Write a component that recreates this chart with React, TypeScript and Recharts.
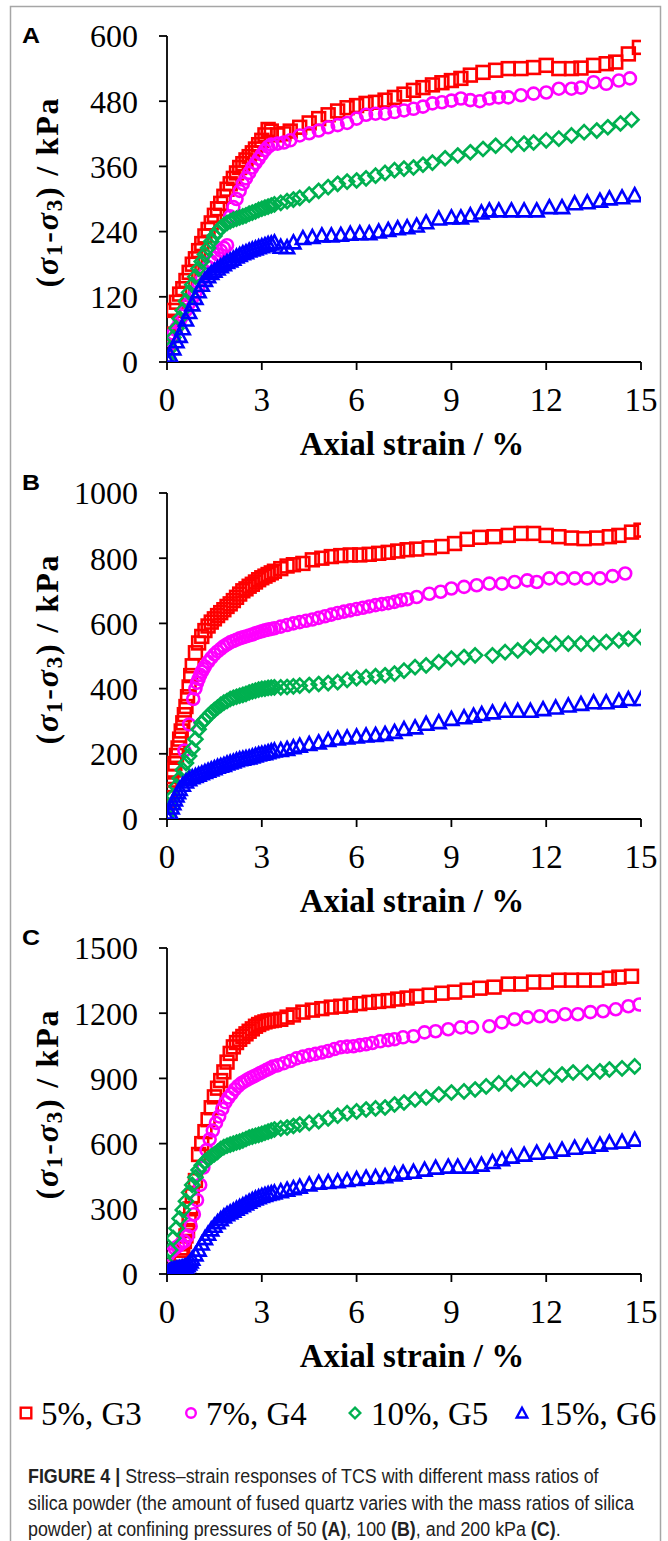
import React from "react";
import { ScatterChart, Scatter, XAxis, YAxis, Label } from "recharts";

// strain (%) , deviator stress (kPa)
const A_G3: [number, number][] = [[0,30],[0.05,50],[0.1,75],[0.2,95],[0.3,110],[0.4,125],[0.5,135],[0.6,150],[0.7,165],[0.8,180],[0.9,190],[1.0,205],[1.1,218],[1.2,232],[1.3,244],[1.4,256],[1.5,270],[1.6,282],[1.7,292],[1.8,305],[1.9,318],[2.0,328],[2.1,338],[2.2,348],[2.3,358],[2.4,365],[2.5,372],[2.6,378],[2.7,385],[2.8,392],[2.9,400],[3.0,408],[3.1,418],[3.2,428],[3.3,425],[3.5,418],[3.7,420],[3.9,425],[4.2,432],[4.5,440],[4.8,448],[5.1,455],[5.4,462],[5.7,468],[6.0,472],[6.3,476],[6.6,478],[6.9,482],[7.2,487],[7.5,493],[7.8,500],[8.1,505],[8.4,510],[8.7,514],[9.0,518],[9.3,522],[9.6,528],[10.0,533],[10.4,537],[10.8,540],[11.2,540],[11.6,542],[12.0,546],[12.4,540],[12.8,540],[13.1,541],[13.5,546],[13.9,549],[14.2,552],[14.6,567],[14.95,579]];
const A_G4: [number, number][] = [[0,25],[0.1,40],[0.2,52],[0.3,62],[0.4,75],[0.5,85],[0.6,95],[0.7,108],[0.8,118],[0.9,128],[1.0,140],[1.1,152],[1.2,163],[1.3,175],[1.4,185],[1.5,192],[1.6,198],[1.7,205],[1.8,210],[1.9,215],[2.0,268],[2.1,285],[2.2,300],[2.3,315],[2.4,328],[2.5,338],[2.6,348],[2.7,358],[2.8,366],[2.9,374],[3.0,382],[3.1,390],[3.2,396],[3.3,400],[3.5,402],[3.7,404],[3.9,408],[4.2,417],[4.5,421],[4.8,426],[5.1,432],[5.4,436],[5.7,440],[6.0,448],[6.3,455],[6.6,457],[6.9,457],[7.2,460],[7.5,463],[7.8,466],[8.1,470],[8.4,476],[8.7,478],[9.0,481],[9.3,485],[9.6,482],[9.9,480],[10.2,485],[10.5,487],[10.8,487],[11.2,491],[11.6,494],[12.0,496],[12.4,503],[12.8,503],[13.1,505],[13.5,515],[13.9,512],[14.3,518],[14.65,522]];
const A_G5: [number, number][] = [[0,5],[0.1,25],[0.2,45],[0.3,62],[0.4,80],[0.5,95],[0.6,112],[0.7,128],[0.8,142],[0.9,157],[1.0,172],[1.1,185],[1.2,198],[1.3,210],[1.4,222],[1.5,232],[1.6,240],[1.7,247],[1.8,252],[1.9,256],[2.0,259],[2.1,262],[2.2,264],[2.3,266],[2.4,268],[2.5,270],[2.6,273],[2.7,275],[2.8,277],[2.9,280],[3.0,282],[3.1,284],[3.2,286],[3.3,288],[3.4,290],[3.6,293],[3.8,296],[4.0,299],[4.2,302],[4.5,308],[4.8,315],[5.1,322],[5.4,328],[5.7,332],[6.0,334],[6.3,338],[6.6,343],[6.9,348],[7.2,353],[7.5,356],[7.8,358],[8.1,363],[8.4,367],[8.8,375],[9.2,380],[9.6,386],[10.0,392],[10.4,398],[10.9,400],[11.3,402],[11.6,404],[12.0,408],[12.4,411],[12.8,417],[13.2,423],[13.6,426],[13.95,432],[14.35,439],[14.7,446]];
const A_G6: [number, number][] = [[0.05,0],[0.1,12],[0.2,25],[0.3,38],[0.4,48],[0.5,62],[0.6,78],[0.7,92],[0.8,106],[0.9,118],[1.0,130],[1.1,142],[1.2,151],[1.3,158],[1.4,164],[1.5,168],[1.6,172],[1.7,176],[1.8,180],[1.9,184],[2.0,187],[2.1,190],[2.2,194],[2.3,197],[2.4,200],[2.5,202],[2.6,205],[2.7,207],[2.8,209],[2.9,211],[3.0,213],[3.1,215],[3.2,217],[3.3,218],[3.4,220],[3.6,212],[3.8,211],[4.0,220],[4.3,228],[4.6,230],[4.9,233],[5.2,233],[5.5,234],[5.8,236],[6.1,237],[6.4,237],[6.7,240],[7.0,243],[7.3,246],[7.6,248],[7.9,251],[8.2,257],[8.6,264],[9.0,266],[9.3,266],[9.6,270],[9.95,275],[10.2,279],[10.5,279],[10.9,279],[11.3,279],[11.7,279],[12.1,285],[12.5,285],[12.9,292],[13.3,294],[13.7,297],[14.0,301],[14.4,303],[14.8,307]];

const B_G3: [number, number][] = [[0,40],[0.05,80],[0.1,105],[0.15,130],[0.2,150],[0.25,170],[0.3,195],[0.35,218],[0.4,245],[0.45,270],[0.5,295],[0.55,320],[0.6,345],[0.65,375],[0.7,405],[0.75,440],[0.8,470],[0.9,510],[1.0,540],[1.1,560],[1.2,578],[1.3,592],[1.4,604],[1.5,614],[1.6,624],[1.7,633],[1.8,642],[1.9,652],[2.0,660],[2.1,670],[2.2,680],[2.3,690],[2.4,700],[2.5,706],[2.6,714],[2.7,720],[2.8,727],[2.9,734],[3.0,740],[3.1,745],[3.2,750],[3.3,755],[3.4,760],[3.6,768],[3.8,776],[4.0,780],[4.3,784],[4.6,795],[4.9,800],[5.2,805],[5.5,808],[5.8,810],[6.1,810],[6.4,812],[6.7,815],[7.0,818],[7.3,822],[7.6,826],[7.9,828],[8.3,832],[8.7,836],[9.1,845],[9.5,858],[9.9,864],[10.35,866],[10.8,870],[11.2,876],[11.6,876],[12.0,870],[12.4,866],[12.8,862],[13.2,860],[13.6,862],[14.0,866],[14.3,870],[14.7,880],[15.0,886]];
const B_G4: [number, number][] = [[0.55,210],[0.7,290],[0.83,368],[0.9,400],[0.95,418],[1.0,430],[1.05,442],[1.1,452],[1.15,460],[1.2,468],[1.3,482],[1.4,494],[1.5,505],[1.6,514],[1.7,522],[1.8,530],[1.9,536],[2.0,542],[2.1,546],[2.2,550],[2.3,554],[2.4,557],[2.5,560],[2.6,563],[2.7,566],[2.8,570],[2.9,573],[3.0,576],[3.1,579],[3.2,581],[3.3,583],[3.4,585],[3.6,590],[3.8,595],[4.0,600],[4.2,604],[4.4,608],[4.6,612],[4.8,617],[5.0,622],[5.2,627],[5.4,632],[5.6,636],[5.8,640],[6.0,644],[6.2,648],[6.4,652],[6.6,656],[6.8,659],[7.0,662],[7.2,666],[7.4,671],[7.6,674],[7.9,681],[8.3,691],[8.66,697],[9.0,707],[9.4,712],[9.8,717],[10.2,722],[10.6,722],[11.0,727],[11.4,732],[11.7,727],[12.1,738],[12.5,738],[12.9,738],[13.3,738],[13.7,738],[14.1,745],[14.5,753]];
const B_G5: [number, number][] = [[0,10],[0.1,40],[0.2,70],[0.3,100],[0.4,125],[0.5,150],[0.6,172],[0.7,193],[0.8,215],[0.9,245],[1.0,275],[1.1,295],[1.2,305],[1.3,316],[1.4,326],[1.5,334],[1.6,342],[1.7,350],[1.8,357],[1.9,362],[2.0,368],[2.1,372],[2.2,375],[2.3,378],[2.4,381],[2.5,384],[2.6,388],[2.7,391],[2.8,394],[2.9,397],[3.0,399],[3.1,400],[3.2,402],[3.3,403],[3.4,404],[3.6,404],[3.8,405],[4.0,407],[4.2,409],[4.5,411],[4.8,414],[5.1,417],[5.4,420],[5.7,427],[6.0,432],[6.3,435],[6.6,438],[6.9,441],[7.2,446],[7.5,455],[7.85,466],[8.2,471],[8.6,481],[9.0,492],[9.4,497],[9.75,502],[10.3,502],[10.7,512],[11.1,517],[11.5,527],[11.9,533],[12.3,538],[12.7,538],[13.1,538],[13.5,538],[13.9,543],[14.3,548],[14.6,553],[15.0,558]];
const B_G6: [number, number][] = [[0.05,0],[0.1,20],[0.15,35],[0.2,48],[0.25,60],[0.3,72],[0.35,82],[0.4,92],[0.5,105],[0.6,115],[0.7,122],[0.8,128],[0.9,132],[1.0,136],[1.1,140],[1.2,144],[1.3,148],[1.4,152],[1.5,156],[1.6,160],[1.7,163],[1.8,166],[1.9,170],[2.0,173],[2.1,176],[2.2,180],[2.3,183],[2.4,185],[2.5,187],[2.6,189],[2.7,192],[2.8,195],[2.9,198],[3.0,200],[3.1,202],[3.2,205],[3.3,208],[3.4,210],[3.6,212],[3.8,215],[4.0,220],[4.2,225],[4.5,230],[4.8,235],[5.1,242],[5.4,247],[5.7,250],[6.0,253],[6.3,256],[6.6,258],[6.9,261],[7.2,267],[7.5,276],[7.85,281],[8.2,292],[8.6,297],[9.0,307],[9.4,312],[9.7,317],[9.96,322],[10.3,327],[10.7,332],[11.1,332],[11.5,332],[11.9,337],[12.3,342],[12.7,348],[13.1,353],[13.5,358],[13.9,358],[14.3,363],[14.6,368],[15.0,368]];

const C_G3: [number, number][] = [[0,0],[0.05,5],[0.1,5],[0.15,8],[0.2,12],[0.25,15],[0.3,20],[0.35,30],[0.4,50],[0.45,80],[0.5,120],[0.55,150],[0.6,175],[0.65,200],[0.7,250],[0.75,300],[0.8,360],[0.9,430],[1.0,550],[1.1,600],[1.2,655],[1.3,710],[1.4,765],[1.5,815],[1.6,855],[1.7,890],[1.8,930],[1.9,975],[2.0,1015],[2.1,1045],[2.2,1065],[2.3,1080],[2.4,1093],[2.5,1105],[2.6,1117],[2.7,1128],[2.8,1140],[2.9,1148],[3.0,1155],[3.1,1160],[3.2,1164],[3.3,1166],[3.4,1168],[3.6,1172],[3.8,1182],[4.0,1192],[4.3,1205],[4.6,1214],[4.9,1221],[5.2,1228],[5.5,1232],[5.8,1237],[6.1,1244],[6.4,1250],[6.7,1254],[7.0,1258],[7.3,1265],[7.6,1270],[7.9,1278],[8.3,1283],[8.7,1292],[9.1,1297],[9.5,1306],[9.9,1315],[10.35,1320],[10.8,1334],[11.2,1334],[11.6,1343],[12.0,1343],[12.4,1352],[12.8,1352],[13.2,1352],[13.6,1352],[14.0,1361],[14.3,1366],[14.7,1370]];
const C_G4: [number, number][] = [[0.05,90],[0.15,105],[0.25,118],[0.35,128],[0.45,140],[0.55,150],[0.65,175],[0.75,220],[0.85,275],[0.95,340],[1.05,410],[1.15,490],[1.25,570],[1.35,620],[1.45,660],[1.55,695],[1.65,725],[1.75,760],[1.85,790],[1.95,812],[2.05,830],[2.15,850],[2.25,865],[2.35,877],[2.45,886],[2.55,895],[2.65,903],[2.75,910],[2.85,917],[2.95,925],[3.05,932],[3.15,939],[3.25,946],[3.35,954],[3.5,960],[3.7,970],[3.9,980],[4.1,992],[4.3,1000],[4.5,1007],[4.7,1013],[4.9,1019],[5.1,1026],[5.3,1035],[5.5,1043],[5.7,1046],[5.9,1048],[6.1,1053],[6.3,1057],[6.5,1063],[6.75,1071],[7.0,1076],[7.2,1080],[7.47,1089],[7.8,1094],[8.15,1112],[8.5,1117],[8.9,1126],[9.3,1135],[9.65,1135],[10.2,1140],[10.6,1158],[11.0,1172],[11.4,1181],[11.8,1186],[12.2,1186],[12.6,1195],[13.0,1195],[13.4,1205],[13.8,1209],[14.2,1218],[14.6,1232],[14.95,1240]];
const C_G5: [number, number][] = [[0,50],[0.1,110],[0.2,165],[0.3,210],[0.4,255],[0.5,295],[0.6,335],[0.7,375],[0.8,410],[0.9,445],[1.0,478],[1.1,500],[1.2,518],[1.3,530],[1.4,541],[1.5,551],[1.6,562],[1.7,575],[1.8,584],[1.9,590],[2.0,595],[2.1,600],[2.2,605],[2.3,609],[2.4,615],[2.5,621],[2.6,628],[2.7,632],[2.8,636],[2.9,640],[3.0,645],[3.1,650],[3.2,655],[3.3,660],[3.4,665],[3.6,670],[3.8,674],[4.0,681],[4.2,688],[4.5,695],[4.8,703],[5.1,716],[5.4,728],[5.7,740],[6.0,748],[6.3,757],[6.6,762],[6.9,766],[7.2,780],[7.5,789],[7.85,803],[8.2,812],[8.6,826],[9.0,835],[9.4,840],[9.75,849],[10.1,863],[10.5,877],[10.9,877],[11.3,895],[11.7,900],[12.1,909],[12.5,918],[12.85,927],[13.3,927],[13.7,932],[14.0,941],[14.4,946],[14.8,955]];
const C_G6: [number, number][] = [[0,5],[0.05,10],[0.1,15],[0.15,18],[0.2,20],[0.25,22],[0.3,24],[0.35,25],[0.4,27],[0.45,28],[0.5,30],[0.55,32],[0.6,35],[0.65,40],[0.7,48],[0.75,58],[0.8,70],[0.9,90],[1.0,112],[1.1,140],[1.2,165],[1.3,185],[1.4,205],[1.5,222],[1.6,238],[1.7,252],[1.8,265],[1.9,275],[2.0,283],[2.1,291],[2.2,300],[2.3,308],[2.4,316],[2.5,324],[2.6,332],[2.7,340],[2.8,347],[2.9,353],[3.0,359],[3.1,364],[3.2,368],[3.3,372],[3.4,375],[3.6,381],[3.8,388],[4.0,395],[4.2,402],[4.5,412],[4.8,420],[5.1,423],[5.4,427],[5.7,432],[6.0,437],[6.3,443],[6.6,446],[6.9,450],[7.2,458],[7.47,466],[7.8,470],[8.15,480],[8.5,489],[8.9,494],[9.2,494],[9.6,494],[9.95,503],[10.3,515],[10.6,528],[10.9,540],[11.3,549],[11.7,558],[12.1,563],[12.5,572],[12.9,581],[13.3,586],[13.7,595],[14.0,605],[14.4,609],[14.8,618]];

const X_TICKS = [0, 3, 6, 9, 12, 15];
const A_Y_TICKS = [0, 120, 240, 360, 480, 600];
const B_Y_TICKS = [0, 200, 400, 600, 800, 1000];
const C_Y_TICKS = [0, 300, 600, 900, 1200, 1500];
const SERIES_NAMES = ["5%, G3", "7%, G4", "10%, G5", "15%, G6"];

const SERIF = '"Liberation Serif", "Times New Roman", serif';
const SANS = '"Liberation Sans", Arial, sans-serif';
const COLORS = ["#ff0000", "#ff00ff", "#00b050", "#0000ff"];
const SW = 2.6;

type Pt = { x: number; y: number };
const toPts = (arr: [number, number][]): Pt[] => arr.map(([x, y]) => ({ x, y }));

const Square = ({ cx, cy, color, s = 6.4, sw = SW }: any) =>
  cx == null ? <g /> : <rect x={cx - s} y={cy - s} width={2 * s} height={2 * s} fill="none" stroke={color} strokeWidth={sw} />;
const Circle = ({ cx, cy, color, s = 6, sw = SW }: any) =>
  cx == null ? <g /> : <circle cx={cx} cy={cy} r={s} fill="none" stroke={color} strokeWidth={sw} />;
const Diamond = ({ cx, cy, color, s = 7, sw = SW }: any) =>
  cx == null ? <g /> : (
    <polygon points={`${cx},${cy - s} ${cx + s},${cy} ${cx},${cy + s} ${cx - s},${cy}`} fill="none" stroke={color} strokeWidth={sw} />
  );
const Triangle = ({ cx, cy, color, s = 7, sw = SW }: any) =>
  cx == null ? <g /> : (
    <polygon points={`${cx},${cy - s} ${cx + s},${cy + s * 0.85} ${cx - s},${cy + s * 0.85}`} fill="none" stroke={color} strokeWidth={sw} />
  );
const MARKERS = [Square, Circle, Diamond, Triangle];

const XTitle = (props: any) => {
  const vb = props.viewBox || { x: 0, y: 0, width: 0 };
  return (
    <text x={vb.x + vb.width / 2 + 8} y={vb.y + 93} textAnchor="middle" fontFamily={SERIF} fontWeight="bold" fontSize={33} fill="#000">
      Axial strain / %
    </text>
  );
};

const YTitle = (props: any) => {
  const vb = props.viewBox || { x: 0, y: 0, height: 0 };
  const cx = 47;
  const cy = vb.y + vb.height / 2 - 6;
  return (
    <text
      x={cx}
      y={cy}
      transform={`rotate(-90 ${cx} ${cy})`}
      textAnchor="middle"
      dominantBaseline="central"
      fontFamily={SERIF}
      fontWeight="bold"
      fontSize={32}
      fill="#000"
      textLength={189}
      lengthAdjust="spacing"
    >
      (<tspan fontStyle="italic">σ</tspan>
      <tspan dy={7} fontSize={23}>1</tspan>
      <tspan dy={-7}>-</tspan>
      <tspan fontStyle="italic">σ</tspan>
      <tspan dy={7} fontSize={23}>3</tspan>
      <tspan dy={-7}>{")\u00a0/\u00a0kPa"}</tspan>
    </text>
  );
};

const PANELS = [
  { letter: "A", top: 0, letterY: 43, yMax: 600, yTicks: A_Y_TICKS, series: [A_G3, A_G4, A_G5, A_G6] },
  { letter: "B", top: 457, letterY: 490, yMax: 1000, yTicks: B_Y_TICKS, series: [B_G3, B_G4, B_G5, B_G6] },
  { letter: "C", top: 912, letterY: 945, yMax: 1500, yTicks: C_Y_TICKS, series: [C_G3, C_G4, C_G5, C_G6] },
];

function Panel({ p }: { p: (typeof PANELS)[number] }) {
  const axisStyle = { stroke: "#000", strokeWidth: 1.8 };
  return (
    <div style={{ position: "absolute", left: 0, top: p.top, width: 668, height: 472 }}>
      <ScatterChart width={668} height={472} margin={{ top: 36, right: 27, left: 7, bottom: 10 }}>
        <XAxis
          type="number"
          dataKey="x"
          domain={[0, 15]}
          ticks={X_TICKS}
          height={100}
          axisLine={axisStyle}
          tickLine={axisStyle}
          tickSize={8}
          tickMargin={18}
          tick={{ fontFamily: SERIF, fontSize: 33, fill: "#000" }}
          allowDataOverflow
        >
          <Label content={XTitle} />
        </XAxis>
        <YAxis
          type="number"
          dataKey="y"
          domain={[0, p.yMax]}
          ticks={p.yTicks}
          width={160}
          axisLine={axisStyle}
          tickLine={axisStyle}
          tickSize={8}
          tickMargin={21}
          tick={{ fontFamily: SERIF, fontSize: 32, fill: "#000" }}
          allowDataOverflow
        >
          <Label content={YTitle} />
        </YAxis>
        {p.series.map((s, i) => {
          const M = MARKERS[i];
          return (
            <Scatter
              key={SERIES_NAMES[i]}
              name={SERIES_NAMES[i]}
              data={toPts(s)}
              isAnimationActive={false}
              shape={(props: any) => <M cx={props.cx} cy={props.cy} color={COLORS[i]} />}
            />
          );
        })}
      </ScatterChart>
    </div>
  );
}

const LEGEND_X = [26, 191, 355, 522];
const LEGEND_TEXT_X = [41, 206, 371, 539];

const captionLine: React.CSSProperties = { whiteSpace: "nowrap", height: 26.5, lineHeight: "26.5px" };

export default function App() {
  return (
    <div style={{ position: "absolute", left: 0, top: 0, width: 668, height: 1541, background: "#fff", overflow: "hidden" }}>
      <svg width={668} height={1541} style={{ position: "absolute", left: 0, top: 0 }}>
        <rect x={10.5} y={6.5} width={650} height={1560} fill="none" stroke="#a6a6a6" strokeWidth={1.5} />
        {PANELS.map((p) => (
          <text key={p.letter} x={22} y={p.letterY} fontFamily={SANS} fontWeight="bold" fontSize={22} fill="#000" textLength={18} lengthAdjust="spacingAndGlyphs">
            {p.letter}
          </text>
        ))}
        {/* legend */}
        {SERIES_NAMES.map((n, i) => {
          const M = MARKERS[i];
          return (
            <g key={n}>
              <M cx={LEGEND_X[i]} cy={1413} color={COLORS[i]} s={i === 1 ? 4.8 : 5.3} sw={2.4} />
              <text x={LEGEND_TEXT_X[i]} y={1425} fontFamily={SERIF} fontSize={33} fill="#000">
                {n}
              </text>
            </g>
          );
        })}
      </svg>
      {PANELS.map((p) => (
        <Panel key={p.letter} p={p} />
      ))}
      {/* caption */}
      <div
        style={{
          position: "absolute",
          left: 28,
          top: 1463,
          fontFamily: SANS,
          fontSize: 19.5,
          color: "#222",
          transform: "scaleX(0.915)",
          transformOrigin: "0 0",
        }}
      >
        <div style={captionLine}>
          <b>FIGURE 4 |</b> Stress–strain responses of TCS with different mass ratios of
        </div>
        <div style={captionLine}>silica powder (the amount of fused quartz varies with the mass ratios of silica</div>
        <div style={captionLine}>
          powder) at confining pressures of 50 <b>(A)</b>, 100 <b>(B)</b>, and 200 kPa <b>(C)</b>.
        </div>
      </div>
    </div>
  );
}
